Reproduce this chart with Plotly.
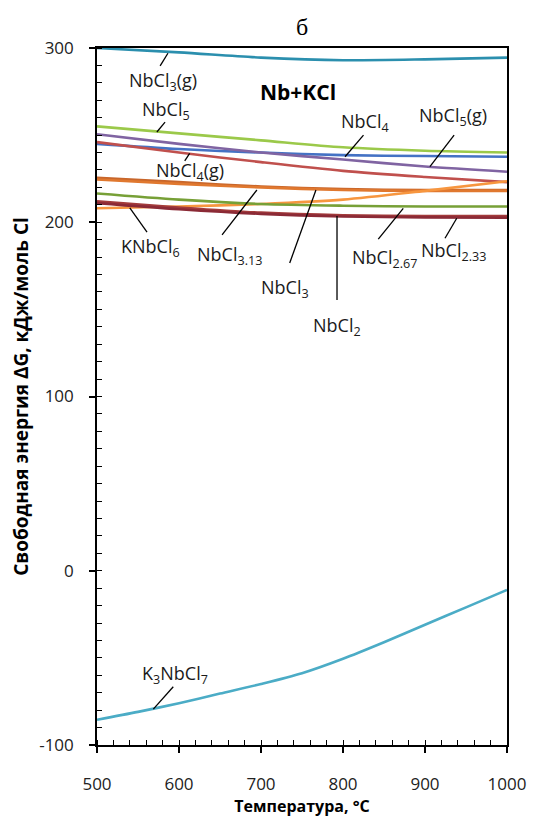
import plotly.graph_objects as go

# ---------------- data ----------------
T = [500, 600, 700, 800, 900, 1000]
T_k3 = [500, 550, 600, 650, 700, 750, 800, 850, 900, 950, 1000]

NbCl3_g = [300, 297.5, 294.5, 293, 293.5, 294.5]
NbCl5 = [255, 251, 247, 243, 241, 240]
NbCl4 = [245, 242, 240, 238.5, 238, 237.6]
NbCl5_g = [250.5, 245, 240, 236, 232, 229]
NbCl4_g = [246, 240, 234.5, 229.5, 226, 223]
NbCl3_13 = [225.5, 223, 220.5, 219, 218.5, 218.5]
NbCl3 = [224.5, 222, 220, 218.5, 218, 218]
KNbCl6 = [208, 209, 210.5, 213, 218, 223.5]
NbCl2_67 = [216.5, 213, 210.5, 209.5, 209, 209]
NbCl2 = [212, 208.5, 205.5, 204, 203.5, 203.5]
NbCl2_33 = [211, 207.5, 204.8, 203.3, 202.8, 202.6]
K3NbCl7 = [-85.5, -81, -76, -70.5, -65, -58.8, -50.5, -41, -31, -21, -11]

series = [
    ("NbCl3(g)", T, NbCl3_g, "#2B8FAE"),
    ("NbCl5", T, NbCl5, "#9BC94A"),
    ("NbCl4", T, NbCl4, "#4472C4"),
    ("NbCl5(g)", T, NbCl5_g, "#8064A2"),
    ("NbCl4(g)", T, NbCl4_g, "#C0504D"),
    ("NbCl3.13", T, NbCl3_13, "#C8662B"),
    ("NbCl3", T, NbCl3, "#E0782F"),
    ("KNbCl6", T, KNbCl6, "#F7963F"),
    ("NbCl2.67", T, NbCl2_67, "#77A037"),
    ("NbCl2", T, NbCl2, "#A33B3B"),
    ("NbCl2.33", T, NbCl2_33, "#8B2A36"),
    ("K3NbCl7", T_k3, K3NbCl7, "#4BACC6"),
]

# label texts and positions (data coords)
label_text = ["NbCl<sub>3</sub>(g)", "NbCl<sub>5</sub>", "NbCl<sub>4</sub>", "NbCl<sub>5</sub>(g)",
              "NbCl<sub>4</sub>(g)", "KNbCl<sub>6</sub>", "NbCl<sub>3.13</sub>", "NbCl<sub>3</sub>",
              "NbCl<sub>2</sub>", "NbCl<sub>2.67</sub>", "NbCl<sub>2.33</sub>", "K<sub>3</sub>NbCl<sub>7</sub>"]
label_x = [581, 584, 827, 934, 613, 565, 661, 729, 793, 850, 935, 595]
label_y = [281, 264, 257, 260.5, 229, 185.5, 181, 162, 140, 179, 183.5, -59.7]

# leader lines: (x0, y0, x1, y1)
leaders = [
    (586.5, 297, 577, 289.7),
    (583, 257.5, 573, 251.8),
    (825, 250, 802.5, 237.6),
    (935.5, 250, 906, 231.9),
    (613, 239.5, 607, 235.2),
    (540, 208.2, 561, 194.4),
    (695, 218.5, 652.5, 192.7),
    (767, 218.5, 735, 176.6),
    (792.7, 203.6, 792.7, 155.4),
    (873.5, 208, 843, 190.3),
    (938.7, 202.3, 924.4, 190.8),
    (593, -66.6, 568.7, -79.4),
]

FONT = "Open Sans"

fig = go.Figure()
for name, xs, ys, col in series:
    fig.add_trace(go.Scatter(x=xs, y=ys, mode="lines", name=name,
                             line=dict(color=col, width=2.6, shape="spline", smoothing=0.8),
                             showlegend=False, hoverinfo="skip"))

annotations = []
for t, lx, ly in zip(label_text, label_x, label_y):
    annotations.append(dict(x=lx, y=ly, xref="x", yref="y", text=t, showarrow=False,
                            font=dict(family=FONT, size=18, color="#1a1a1a")))
annotations.append(dict(x=745, y=275, xref="x", yref="y", text="<b>Nb+KCl</b>", showarrow=False,
                        font=dict(family=FONT, size=21, color="black")))
annotations.append(dict(x=0.5, y=1.0, xref="paper", yref="paper", text="б", showarrow=False,
                        xanchor="center", yanchor="bottom", yshift=6,
                        font=dict(family="Liberation Serif", size=24, color="black")))

shapes = []
for x0, y0, x1, y1 in leaders:
    shapes.append(dict(type="line", x0=x0, y0=y0, x1=x1, y1=y1, xref="x", yref="y",
                       line=dict(color="black", width=1.3)))

fig.update_layout(
    width=546, height=819,
    margin=dict(l=97, r=39, t=48, b=74),
    paper_bgcolor="white", plot_bgcolor="white",
    annotations=annotations, shapes=shapes,
    font=dict(family=FONT, color="#222"),
)
fig.update_xaxes(
    range=[500, 1000], tickvals=[500, 600, 700, 800, 900, 1000],
    ticks="outside", ticklen=6, tickwidth=1.5, tickcolor="black", ticklabelstandoff=17,
    minor=dict(dtick=20, ticks="inside", ticklen=5, tickwidth=1.2, tickcolor="black", showgrid=False),
    showline=True, linecolor="black", linewidth=1.6, mirror=True, showgrid=False, zeroline=False,
    tickfont=dict(family=FONT, size=17, color="#222"),
    title=dict(text="<b>Температура, °C</b>", font=dict(family=FONT, size=16, color="black"), standoff=0),
)
fig.update_yaxes(
    range=[-100, 300], tickvals=[-100, 0, 100, 200, 300], ticktext=["-100", "0", "100", "200", "300"],
    ticks="outside", ticklen=6, tickwidth=1.5, tickcolor="black", ticklabelstandoff=12,
    minor=dict(dtick=10, ticks="inside", ticklen=5, tickwidth=1.2, tickcolor="black", showgrid=False),
    showline=True, linecolor="black", linewidth=1.6, mirror=True, showgrid=False, zeroline=False,
    tickfont=dict(family=FONT, size=17, color="#222"),
    title=dict(text="<b>Свободная энергия ΔG, кДж/моль Cl</b>", font=dict(family=FONT, size=19, color="black"),
               standoff=6),
)

fig.write_html("out.html")
